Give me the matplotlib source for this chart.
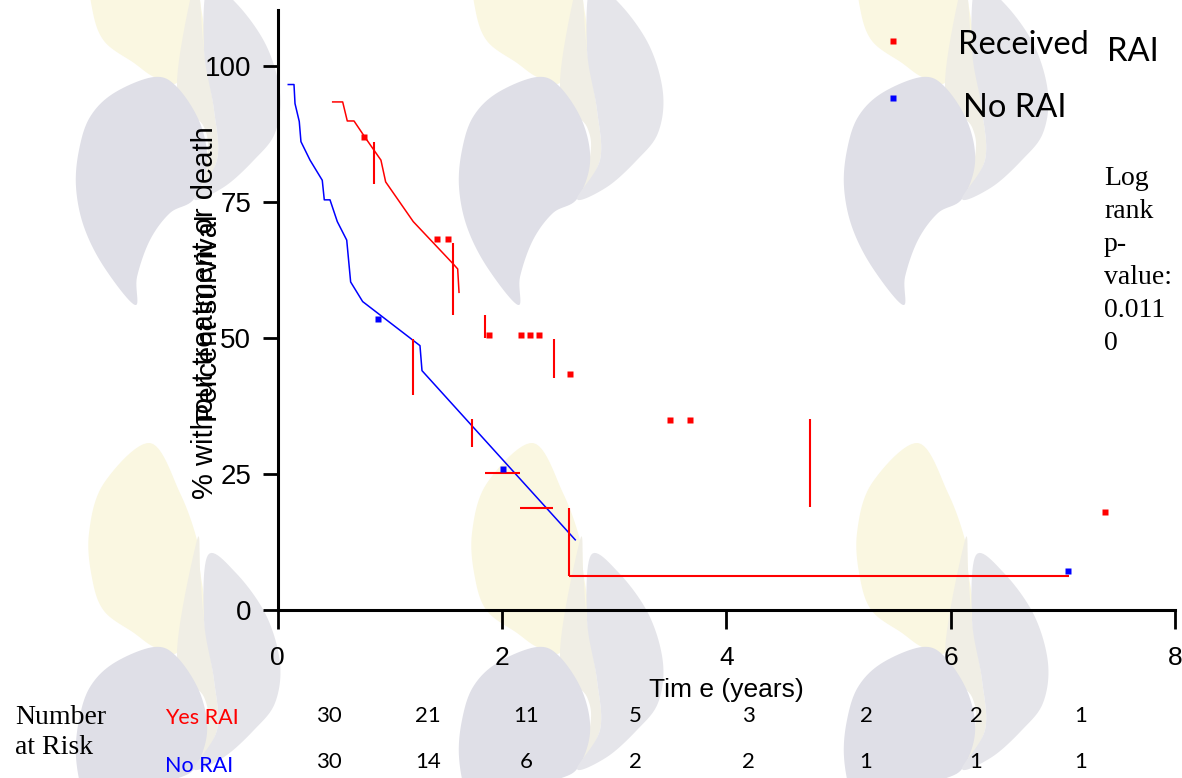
import matplotlib
matplotlib.use("Agg")
import numpy as np
import matplotlib.pyplot as plt
from matplotlib.lines import Line2D
from matplotlib.patches import Polygon

# ---------------- data ----------------
red_t = [0.492, 0.581, 0.622, 0.682, 0.780, 0.922, 0.964, 1.210, 1.567, 1.606, 1.618]
red_s = [93.4, 93.4, 89.9, 89.9, 86.9, 82.7, 78.7, 71.4, 63.6, 62.7, 58.4]

blue_t = [0.096, 0.147, 0.156, 0.194, 0.209, 0.290, 0.399, 0.417, 0.468, 0.533,
          0.617, 0.652, 0.759, 1.270, 1.288, 2.654]
blue_s = [96.6, 96.6, 93.1, 89.8, 86.1, 82.7, 79.0, 75.4, 75.4, 71.4,
          68.0, 60.3, 56.7, 48.6, 44.0, 12.9]

red_mark_t = [0.771, 1.419, 1.522, 1.885, 2.168, 2.250, 2.331, 2.607, 3.498, 3.676, 7.376]
red_mark_s = [87.0, 68.2, 68.2, 50.6, 50.6, 50.6, 50.6, 43.4, 34.9, 34.9, 18.0]

blue_mark_t = [0.898, 2.012, 7.043]
blue_mark_s = [53.5, 25.9, 7.2]

# red vertical bars: x, y_low, y_high
red_vbar_t = [0.860, 1.567, 1.849, 2.462, 1.205, 1.731, 4.746, 2.601]
red_vbar_lo = [78.4, 54.2, 50.0, 42.6, 39.5, 29.9, 18.9, 6.25]
red_vbar_hi = [86.1, 67.5, 54.2, 49.8, 49.8, 35.1, 35.1, 18.7]

# red horizontal bars: y, x_start, x_end
red_hbar_s = [25.1, 18.75, 6.25]
red_hbar_t0 = [1.852, 2.161, 2.601]
red_hbar_t1 = [2.161, 2.458, 7.055]

x_ticks = [0, 2, 4, 6, 8]
y_ticks = [0, 25, 50, 75, 100]

risk_yes = ["30", "21", "11", "5", "3", "2", "2", "1"]
risk_no = ["30", "14", "6", "2", "2", "1", "1", "1"]

RED = "#ff0000"
BLUE = "#0000ff"

W, H = 1182, 778
fig = plt.figure(figsize=(W / 100, H / 100), dpi=100)


def fx(px):
    return px / W


def fy(py):
    return 1 - py / H


# ---------------- background watermark logos (decoration) ----------------
def smooth_closed(pts, n=12):
    pts = np.asarray(pts, float)
    m = len(pts)
    out = []
    for i in range(m):
        p0, p1, p2, p3 = pts[(i - 1) % m], pts[i], pts[(i + 1) % m], pts[(i + 2) % m]
        for t in np.linspace(0, 1, n, endpoint=False):
            t2, t3 = t * t, t * t * t
            out.append(0.5 * ((2 * p1) + (-p0 + p2) * t + (2 * p0 - 5 * p1 + 4 * p2 - p3) * t2
                              + (-p0 + 3 * p1 - 3 * p2 + p3) * t3))
    return np.array(out)


yellow_main = [(0, 0), (30, 50), (47, 97), (50, 127), (54, 177), (27, 210), (4, 204),
               (-16, 190), (-46, 168), (-58, 135), (-61, 90), (-46, 40)]
yellow_ribbon = [(47, 97), (50, 127), (54, 177), (64, 237), (67, 287), (44, 324),
                 (57, 284), (54, 254), (27, 214)]
grey_bulge = [(4, 204), (-36, 220), (-60, 244), (-71, 277), (-74, 314), (-66, 354),
              (-46, 394), (-15, 432), (-13, 404), (0, 367), (20, 340), (44, 326),
              (57, 290), (50, 250), (27, 214)]
grey_ribbon = [(44, 326), (74, 314), (104, 287), (125, 260), (130, 220), (116, 172),
               (86, 130), (58, 112), (54, 177), (64, 237), (67, 287)]

logo_origins = [(150, -127), (533, -127), (918, -127), (150, 443), (533, 443), (918, 443)]
shapes = [(yellow_main, "#faf7e1"), (yellow_ribbon, "#f0eee5"),
          (grey_bulge, "#dfdfe7"), (grey_ribbon, "#e5e5ea")]
for ox, oy in logo_origins:
    for pts, col in shapes:
        sm = smooth_closed(pts)
        figpts = np.column_stack([fx(sm[:, 0] + ox), fy(sm[:, 1] + oy)])
        fig.patches.append(Polygon(figpts, closed=True, transform=fig.transFigure,
                                   facecolor=col, edgecolor="none", zorder=-5))

# ---------------- main axes ----------------
ax = fig.add_axes([fx(277.5), fy(610), fx(1175) - fx(277.5), fy(10) - fy(610)])
ax.set_zorder(2)
ax.patch.set_alpha(0)
ax.set_xlim(0, 8)
ax.set_ylim(0, 110.3)

ax.plot(red_t, red_s, color=RED, lw=1.1)
ax.plot(blue_t, blue_s, color=BLUE, lw=1.1)
ax.vlines(red_vbar_t, red_vbar_lo, red_vbar_hi, color=RED, lw=1.5)
ax.hlines(red_hbar_s, red_hbar_t0, red_hbar_t1, color=RED, lw=1.5)
ax.plot(red_mark_t, red_mark_s, ls="none", marker="s", ms=5, color=RED, mec="none")
ax.plot(blue_mark_t, blue_mark_s, ls="none", marker="s", ms=5, color=BLUE, mec="none")

for s in ["top", "right"]:
    ax.spines[s].set_visible(False)
ax.spines["left"].set_linewidth(2.2)
ax.spines["bottom"].set_linewidth(2.2)
ax.set_xticks(x_ticks)
ax.set_yticks(y_ticks)
ax.tick_params(axis="y", length=11, width=2, pad=8, labelsize=20)
ax.tick_params(axis="x", length=14, width=2, pad=12, labelsize=19)
for lab in ax.get_xticklabels() + ax.get_yticklabels():
    lab.set_fontfamily("Liberation Sans")
ax.set_xlabel("Tim e (years)", fontsize=19, family="Liberation Sans", labelpad=6)

# overlapping y labels (as in the reference)
fig.text(fx(205), fy(313), "% without treatment or death", rotation=90,
         ha="center", va="center", fontsize=21, family="Liberation Sans", zorder=5)
fig.text(fx(209), fy(318), "Percent survival", rotation=90,
         ha="center", va="center", fontsize=21, family="Liberation Sans", zorder=5)

# legend
fig.add_artist(Line2D([fx(893)], [fy(41)], ls="none", marker="s", ms=4.5,
                      color=RED, mec="none", transform=fig.transFigure, zorder=5))
fig.add_artist(Line2D([fx(893)], [fy(98)], ls="none", marker="s", ms=4.5,
                      color=BLUE, mec="none", transform=fig.transFigure, zorder=5))
fig.text(fx(958), fy(45), "Received", fontsize=23.5, family="Lato", va="center", ha="left", zorder=5)
fig.text(fx(1107), fy(52), "RAI", fontsize=23.5, family="Lato", va="center", ha="left", zorder=5)
fig.text(fx(963), fy(108), "No RAI", fontsize=23.5, family="Lato", va="center", ha="left", zorder=5)

# log rank text
fig.text(fx(1104), fy(166), "Log\nrank\np-\nvalue:\n0.011\n0", fontsize=20,
         family="Liberation Serif", va="top", ha="left", linespacing=1.42, zorder=5)

# number at risk
fig.text(fx(15), fy(717), "Number", fontsize=20, family="Liberation Serif", va="center", ha="left", zorder=5)
fig.text(fx(15), fy(748), "at Risk", fontsize=20, family="Liberation Serif", va="center", ha="left", zorder=5)
fig.text(fx(165), fy(718), "Yes RAI", fontsize=15.5, family="Lato", color=RED, va="center", ha="left", zorder=5)
fig.text(fx(165), fy(766), "No RAI", fontsize=15.5, family="Lato", color=BLUE, va="center", ha="left", zorder=5)
col_px = [329, 428, 526, 635, 748, 866, 976, 1081]
for px, a, b in zip(col_px, risk_yes, risk_no):
    fig.text(fx(px), fy(716), a, fontsize=16, family="Lato", va="center", ha="center", zorder=5)
    fig.text(fx(px), fy(762), b, fontsize=16, family="Lato", va="center", ha="center", zorder=5)

fig.savefig("out.png", dpi=100)
